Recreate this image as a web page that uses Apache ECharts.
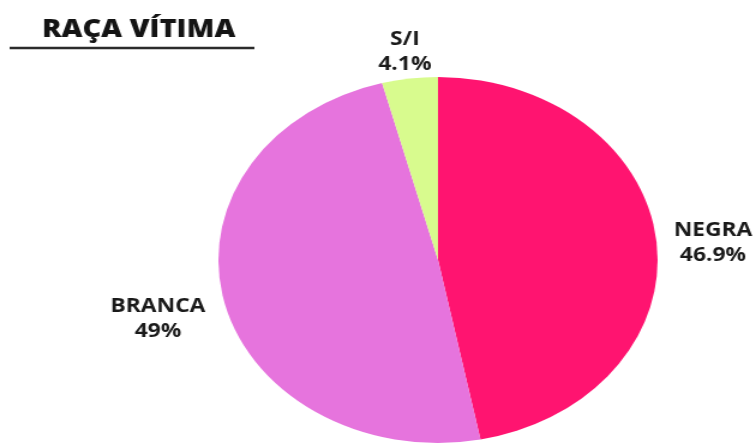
<!DOCTYPE html>
<html>
<head>
<meta charset="utf-8">
<script src="https://cdn.jsdelivr.net/npm/echarts@6/dist/echarts.min.js"></script>
<style>
  html, body { margin: 0; padding: 0; background: #fff; overflow: hidden; }
  /* the source picture is stretched 1.2x horizontally, so the chart is drawn narrow and scaled */
  #chart { width: 627.5px; height: 443px; transform: scaleX(1.2); transform-origin: 0 0; }
</style>
</head>
<body>
<div id="chart"></div>
<script>
const categories = ['NEGRA', 'BRANCA', 'S/I'];
const values = [46.9, 49, 4.1];
const labels = ['46.9%', '49%', '4.1%'];
const colors = ['#ff1470', '#e674dd', '#d8fb8e'];

const chart = echarts.init(document.getElementById('chart'));

const CX = 365, CY = 260, R = 183;
const total = values.reduce((a, b) => a + b, 0);

// put each label just outside the slice, centred on the slice's middle angle
function placeLabel(params) {
  const i = params.dataIndex;
  let before = 0;
  for (let k = 0; k < i; k++) before += values[k];
  const mid = ((before + values[i] / 2) / total) * Math.PI * 2;
  const dx = Math.sin(mid), dy = -Math.cos(mid);
  const w = params.labelRect.width, h = params.labelRect.height;
  const gap = 12 * Math.abs(dx) + 3 * Math.abs(dy);
  const d = R + gap + Math.abs(dx) * w / 2 + Math.abs(dy) * h / 2;
  return { x: CX + dx * d, y: CY + dy * d + 5, align: 'center', verticalAlign: 'middle' };
}

const option = {
  animation: false,
  title: {
    text: 'RAÇA VÍTIMA',
    left: 35,
    top: 18,
    padding: 0,
    textStyle: { fontFamily: 'Open Sans', fontWeight: 800, fontSize: 24, color: '#141414' }
  },
  graphic: [{
    type: 'line',
    shape: { x1: 8, y1: 48, x2: 212, y2: 48 },
    style: { stroke: '#2b2b2b', lineWidth: 2.5 }
  }],
  series: [{
    type: 'pie',
    center: [CX, CY],
    radius: R,
    startAngle: 90,
    clockwise: true,
    silent: true,
    label: {
      show: true,
      position: 'outside',
      formatter: (p) => p.name + '\n' + labels[p.dataIndex],
      fontFamily: 'Open Sans',
      fontWeight: 'bold',
      fontSize: 19,
      lineHeight: 25,
      color: '#1a1a1a',
      align: 'center',
      overflow: 'none'
    },
    labelLine: { show: false },
    labelLayout: placeLabel,
    data: categories.map((c, i) => ({ name: c, value: values[i], itemStyle: { color: colors[i] } }))
  }]
};

chart.setOption(option);
</script>
</body>
</html>
